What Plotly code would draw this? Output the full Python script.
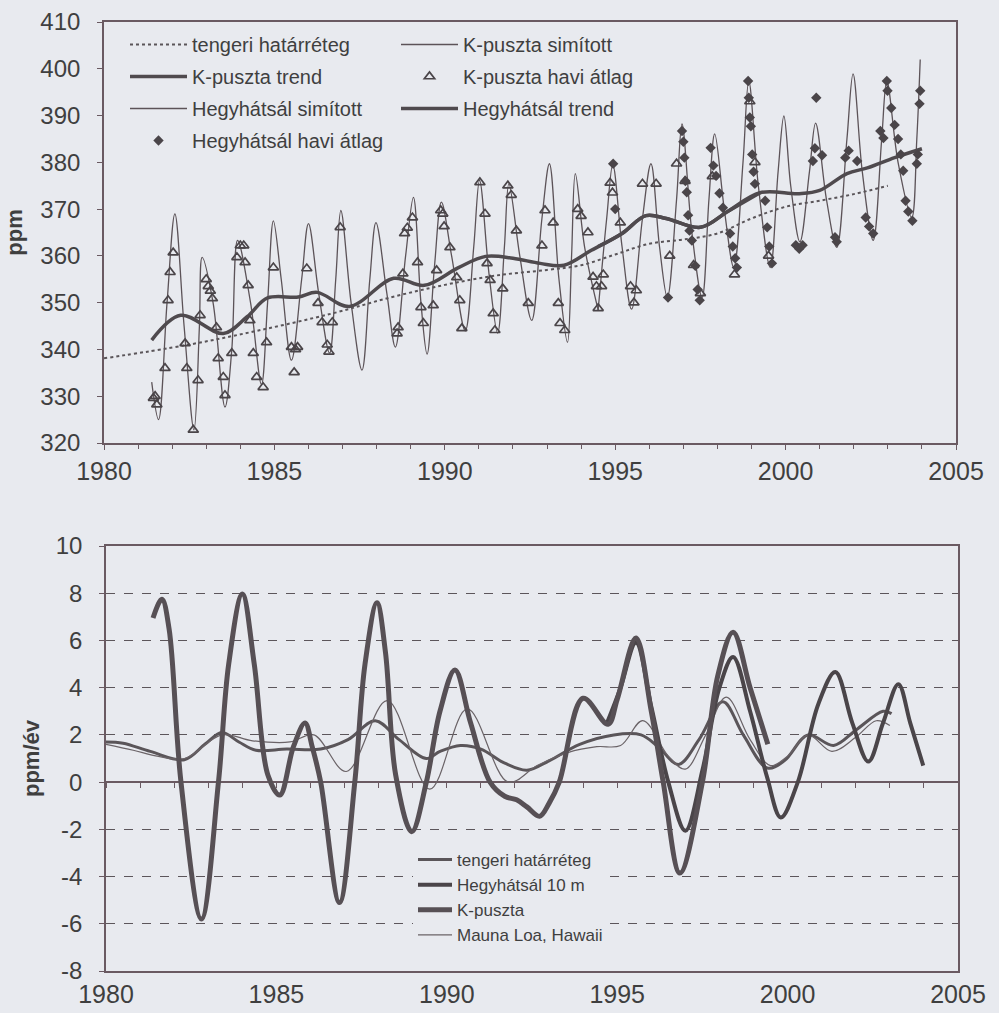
import plotly.graph_objects as go

# ---------------- TOP PANEL (ppm) ----------------
kp_smooth_t = [1981.40, 1981.60, 1981.85, 1982.08, 1982.35, 1982.64, 1982.80, 1982.88, 1983.20, 1983.55,
               1983.75, 1983.92, 1984.30, 1984.62, 1984.80, 1984.97, 1985.20, 1985.50, 1985.80, 1986.00,
               1986.30, 1986.62, 1986.80, 1986.95, 1987.25, 1987.57, 1987.80, 1987.98, 1988.30, 1988.55,
               1988.85, 1989.08, 1989.30, 1989.48, 1989.70, 1989.90, 1990.20, 1990.60, 1990.85, 1991.02,
               1991.30, 1991.55, 1991.75, 1991.88, 1992.20, 1992.55, 1992.85, 1993.07, 1993.35, 1993.60,
               1993.72, 1993.83, 1994.10, 1994.50]
kp_smooth_v = [333.0, 325.0, 350.0, 369.0, 345.0, 322.8, 345.0, 359.7, 350.0, 327.7,
               340.0, 363.3, 350.0, 332.5, 350.0, 367.5, 355.0, 337.7, 355.0, 366.9,
               352.0, 339.2, 355.0, 369.7, 350.0, 335.6, 355.0, 367.1, 352.0, 340.5,
               360.0, 372.5, 350.0, 339.0, 358.0, 371.5, 360.0, 344.0, 362.0, 376.2,
               356.0, 343.5, 362.0, 375.4, 360.0, 346.2, 368.0, 379.7, 355.0, 341.5,
               360.0, 377.6, 362.0, 348.4]

hh_smooth_t = [1994.50, 1994.75, 1994.93, 1995.20, 1995.48, 1995.80, 1996.05, 1996.30, 1996.53, 1996.80,
               1996.96, 1997.25, 1997.55, 1997.75, 1997.92, 1998.20, 1998.48, 1998.75, 1998.92, 1999.20,
               1999.55, 1999.78, 1999.95, 2000.15, 2000.42, 2000.70, 2000.88, 2001.20, 2001.50, 2001.80,
               2001.98, 2002.25, 2002.57, 2002.82, 2002.97, 2003.30, 2003.70, 2003.85, 2003.95]
hh_smooth_v = [348.4, 368.0, 379.5, 362.0, 348.6, 368.0, 379.7, 362.0, 351.1, 372.0,
               388.2, 365.0, 351.1, 372.0, 386.1, 370.0, 357.5, 380.0, 397.4, 375.0,
               357.5, 378.0, 389.9, 375.0, 363.0, 378.0, 388.4, 372.0, 361.8, 385.0,
               398.9, 378.0, 363.3, 385.0, 397.4, 380.0, 368.2, 385.0, 402.0]

mbl_t = [1980.0, 1982.4, 1984.5, 1986.7, 1988.4, 1990.0, 1991.5, 1993.0, 1994.0, 1995.0,
         1996.0, 1997.0, 1998.0, 1999.0, 2000.0, 2001.0, 2002.0, 2003.0]
mbl_v = [338.1, 340.9, 344.0, 347.7, 351.1, 353.8, 355.8, 357.0, 358.0, 360.3,
         362.6, 363.5, 364.8, 368.0, 370.5, 371.8, 373.2, 375.0]

kp_trend_t = [1981.4, 1982.25, 1983.5, 1984.2, 1984.8, 1985.7, 1986.25, 1987.2, 1988.5, 1989.4,
              1990.4, 1991.2, 1992.0, 1992.8, 1993.5, 1994.3, 1995.2, 1995.9, 1996.5, 1997.5,
              1998.3, 1999.25]
kp_trend_v = [342.0, 347.3, 343.4, 347.0, 351.0, 351.2, 352.2, 349.2, 355.2, 353.7,
              357.5, 359.9, 359.5, 358.4, 358.0, 361.2, 364.8, 368.6, 368.0, 366.1,
              369.5, 373.5]

hh_trend_t = [1994.5, 1995.2, 1995.9, 1996.5, 1997.5, 1998.3, 1999.25, 2000.4, 2001.0, 2001.8,
              2002.4, 2003.2, 2004.0]
hh_trend_v = [362.0, 364.8, 368.6, 368.0, 366.1, 369.5, 373.5, 373.3, 374.0, 377.6,
              378.8, 381.0, 382.9]

kp_month_t = [1981.45, 1981.50, 1981.55, 1981.79, 1981.88, 1981.94, 1982.03, 1982.38, 1982.43, 1982.62,
              1982.76, 1982.82, 1983.00, 1983.06, 1983.12, 1983.18, 1983.30, 1983.35, 1983.50, 1983.55,
              1983.75, 1983.90, 1984.00, 1984.10, 1984.14, 1984.23, 1984.28, 1984.38, 1984.48, 1984.67,
              1984.77, 1984.97, 1985.50, 1985.58, 1985.62, 1985.68, 1985.95, 1986.28, 1986.40, 1986.55,
              1986.60, 1986.70, 1986.93, 1988.60, 1988.63, 1988.77, 1988.82, 1988.90, 1989.05, 1989.20,
              1989.30, 1989.37, 1989.66, 1989.76, 1989.88, 1989.94, 1989.98, 1990.15, 1990.35, 1990.44,
              1990.50, 1991.03, 1991.18, 1991.24, 1991.33, 1991.42, 1991.47, 1991.70, 1991.85, 1991.95,
              1992.10, 1992.45, 1992.85, 1992.94, 1993.18, 1993.33, 1993.38, 1993.52, 1993.90, 1994.00,
              1994.20, 1994.35, 1994.45, 1994.50, 1994.60, 1994.65, 1994.85, 1994.92, 1995.15, 1995.45,
              1995.55, 1995.62, 1995.80, 1996.20, 1996.60, 1996.80, 1997.05, 1997.30, 1997.50, 1997.85,
              1998.50, 1998.95, 1999.10, 1999.50]
kp_month_v = [329.6, 330.0, 328.2, 336.0, 350.5, 356.5, 360.7, 341.3, 336.0, 322.8,
              333.4, 347.3, 355.0, 353.5, 352.5, 350.9, 344.7, 338.1, 334.1, 330.2,
              339.2, 359.7, 362.2, 362.2, 358.6, 353.7, 346.2, 339.2, 334.1, 331.9,
              341.5, 357.5, 340.5, 335.1, 340.0, 340.5, 357.3, 349.9, 345.8, 341.0,
              339.5, 345.8, 366.1, 343.4, 344.7, 356.2, 364.8, 366.0, 368.2, 358.6,
              349.0, 345.6, 349.4, 356.9, 369.7, 369.0, 366.3, 361.8, 355.4, 350.5,
              344.5, 375.7, 369.0, 358.4, 354.8, 347.7, 344.1, 353.0, 375.0, 373.0,
              365.4, 349.9, 362.2, 369.7, 367.1, 349.9, 345.6, 344.1, 370.0, 368.5,
              365.0, 355.5, 353.5, 348.8, 353.5, 356.0, 375.6, 373.5, 367.1, 353.5,
              350.0, 352.6, 375.4, 375.4, 360.0, 379.7, 376.0, 358.0, 352.0, 377.0,
              356.0, 393.0, 380.0, 360.0]

hh_month_t = [1994.94, 1995.00, 1996.55, 1996.96, 1997.00, 1997.03, 1997.06, 1997.10, 1997.14, 1997.18,
              1997.25, 1997.35, 1997.42, 1997.48, 1997.80, 1997.88, 1997.96, 1998.06, 1998.16, 1998.37,
              1998.45, 1998.52, 1998.57, 1998.90, 1998.92, 1998.95, 1998.98, 1999.02, 1999.06, 1999.10,
              1999.40, 1999.46, 1999.52, 1999.60, 2000.30, 2000.40, 2000.50, 2000.80, 2000.86, 2000.90,
              2001.07, 2001.45, 2001.50, 2001.75, 2001.85, 2002.10, 2002.35, 2002.45, 2002.57, 2002.78,
              2002.87, 2002.97, 2002.99, 2003.10, 2003.20, 2003.30, 2003.38, 2003.45, 2003.52, 2003.60,
              2003.72, 2003.85, 2003.88, 2003.93, 2003.95]
hh_month_v = [379.7, 370.0, 351.1, 386.7, 384.4, 381.0, 376.0, 373.6, 368.7, 365.4,
              363.3, 357.9, 352.8, 350.5, 383.1, 379.3, 377.1, 373.4, 370.3, 364.8,
              362.0, 359.5, 357.5, 397.4, 393.8, 389.6, 387.7, 381.7, 378.0, 375.4,
              371.8, 366.1, 362.0, 358.4, 362.3, 361.5, 362.3, 380.3, 383.0, 393.8,
              381.5, 364.0, 363.0, 381.0, 382.5, 380.3, 368.2, 366.3, 364.8, 386.7,
              385.2, 397.4, 395.3, 391.6, 388.0, 385.0, 381.7, 378.2, 371.8, 369.5,
              367.5, 379.7, 381.7, 392.5, 395.3]

# ---------------- BOTTOM PANEL (ppm/év) ----------------
rate_kp_t = [1981.38, 1981.64, 1981.85, 1982.2, 1982.8, 1983.3, 1983.6, 1984.0, 1984.35, 1984.75,
             1985.1, 1985.5, 1985.84, 1986.05, 1986.3, 1986.85, 1987.3, 1987.6, 1987.95, 1988.2,
             1988.5, 1988.97, 1989.4, 1989.8, 1990.24, 1990.7, 1991.27, 1991.7, 1992.05, 1992.35,
             1992.72, 1993.0, 1993.3, 1994.0, 1994.73, 1995.0, 1995.55, 1996.0, 1996.35, 1996.84,
             1997.5, 1997.95, 1998.4, 1998.9, 1999.42]
rate_kp_v = [6.95, 7.75, 6.5, 0.0, -5.8, 0.0, 5.0, 7.97, 5.0, 0.3,
             -0.55, 1.5, 2.5, 1.5, 0.0, -5.1, 0.0, 5.0, 7.6, 5.5,
             0.3, -2.1, 0.0, 3.0, 4.75, 2.5, 0.0, -0.6, -0.75, -1.05,
             -1.45, -0.9, 0.0, 3.55, 2.45, 3.5, 6.1, 3.0, 0.0, -3.85,
             0.0, 4.5, 6.35, 4.0, 1.6]

rate_hh_t = [1994.7, 1995.1, 1995.55, 1996.0, 1996.5, 1997.0, 1997.5, 1998.0, 1998.4, 1998.9,
             1999.4, 1999.8, 2000.3, 2000.9, 2001.4, 2001.9, 2002.37, 2002.8, 2003.25, 2003.6,
             2003.98]
rate_hh_v = [2.5, 4.0, 5.9, 3.2, 0.0, -2.06, 0.5, 4.0, 5.3, 3.0,
             0.2, -1.5, 0.0, 3.3, 4.66, 2.5, 0.87, 2.5, 4.15, 2.5,
             0.7]

rate_mbl_t = [1980.0, 1980.5, 1981.3, 1982.3, 1982.9, 1983.4, 1983.9, 1984.4, 1985.3, 1986.3,
              1987.1, 1987.9, 1988.6, 1989.4, 1989.8, 1990.4, 1991.0, 1991.7, 1992.35, 1993.0,
              1993.9, 1994.9, 1995.7, 1996.2, 1996.8, 1997.4, 1998.1, 1998.7, 1999.4, 1999.9,
              2000.6, 2001.35, 2002.0, 2002.8, 2003.05]
rate_mbl_v = [1.7, 1.65, 1.3, 0.95, 1.6, 2.1, 1.7, 1.35, 1.4, 1.4,
              1.8, 2.6, 1.8, 1.0, 1.3, 1.55, 1.4, 0.8, 0.5, 0.9,
              1.6, 2.0, 2.0, 1.5, 0.75, 1.8, 3.4, 2.0, 0.6, 0.9,
              2.0, 1.55, 2.2, 3.0, 2.9]

rate_ml_t = [1980.0, 1980.8, 1981.5, 1982.3, 1983.4, 1984.3, 1985.4, 1986.1, 1987.05, 1988.25,
             1989.5, 1990.6, 1991.8, 1992.65, 1993.55, 1994.4, 1995.1, 1995.75, 1996.5, 1997.0,
             1997.6, 1998.2, 1998.9, 1999.5, 2000.0, 2000.6, 2001.3, 2002.0, 2002.6, 2003.0]
rate_ml_v = [1.6, 1.35, 1.1, 1.0, 2.0, 1.75, 1.7, 2.0, 0.45, 3.45,
             -0.3, 3.1, 0.0, 0.7, 1.25, 1.5, 1.55, 2.6, 1.1, 0.55,
             2.0, 3.6, 1.8, 0.7, 1.1, 2.0, 1.3, 1.9, 2.6, 2.4]

# tick labels (hyphen minus as in the original)
rate_tickvals = [-8, -6, -4, -2, 0, 2, 4, 6, 8, 10]
rate_ticktext = ["-8", "-6", "-4", "-2", "0", "2", "4", "6", "8", "10"]

# ---------------- STYLE ----------------
BG = "#e8eaef"
FRAME = "#6a5a62"
TXT = "#3f3f3f"
FONT = "Liberation Sans, Arial, sans-serif"

fig = go.Figure()

fig.add_trace(go.Scatter(x=kp_smooth_t, y=kp_smooth_v, mode="lines", name="K-puszta simított",
                         line=dict(color="#5c5358", width=1.3, shape="spline"),
                         legend="legend3", legendgroup="a1", legendrank=1, xaxis="x", yaxis="y"))
fig.add_trace(go.Scatter(x=hh_smooth_t, y=hh_smooth_v, mode="lines", name="Hegyhátsál simított",
                         line=dict(color="#5c5358", width=1.3, shape="spline"),
                         legend="legend", legendgroup="b3", legendrank=3, xaxis="x", yaxis="y"))
fig.add_trace(go.Scatter(x=mbl_t, y=mbl_v, mode="lines", name="tengeri határréteg",
                         line=dict(color="#5a5559", width=2, dash="dot", shape="spline"),
                         legend="legend", legendgroup="b1", legendrank=1, xaxis="x", yaxis="y"))
fig.add_trace(go.Scatter(x=kp_trend_t, y=kp_trend_v, mode="lines", name="K-puszta trend",
                         line=dict(color="#4f4a4e", width=3.5, shape="spline"),
                         legend="legend", legendgroup="b2", legendrank=2, xaxis="x", yaxis="y"))
fig.add_trace(go.Scatter(x=hh_trend_t, y=hh_trend_v, mode="lines", name="Hegyhátsál trend",
                         line=dict(color="#4f4a4e", width=3.5, shape="spline"),
                         legend="legend3", legendgroup="a3", legendrank=3, xaxis="x", yaxis="y"))
fig.add_trace(go.Scatter(x=kp_month_t, y=kp_month_v, mode="markers", name="K-puszta havi átlag",
                         marker=dict(symbol="triangle-up-open", size=9, color="#4a4549",
                                     line=dict(width=1.7, color="#4a4549")),
                         legend="legend3", legendgroup="a2", legendrank=2, xaxis="x", yaxis="y"))
fig.add_trace(go.Scatter(x=hh_month_t, y=hh_month_v, mode="markers", name="Hegyhátsál havi átlag",
                         marker=dict(symbol="diamond", size=8, color="#4a4549"),
                         legend="legend", legendgroup="b4", legendrank=4, xaxis="x", yaxis="y"))

fig.add_trace(go.Scatter(x=rate_mbl_t, y=rate_mbl_v, mode="lines", name="tengeri határréteg",
                         line=dict(color="#5a5559", width=3, shape="spline"),
                         legend="legend2", legendrank=1, xaxis="x2", yaxis="y2"))
fig.add_trace(go.Scatter(x=rate_ml_t, y=rate_ml_v, mode="lines", name="Mauna Loa, Hawaii",
                         line=dict(color="#6a6367", width=1.2, shape="spline"),
                         legend="legend2", legendrank=4, xaxis="x2", yaxis="y2"))
fig.add_trace(go.Scatter(x=rate_hh_t, y=rate_hh_v, mode="lines", name="Hegyhátsál 10 m",
                         line=dict(color="#4a4549", width=4, shape="spline"),
                         legend="legend2", legendrank=2, xaxis="x2", yaxis="y2"))
fig.add_trace(go.Scatter(x=rate_kp_t, y=rate_kp_v, mode="lines", name="K-puszta",
                         line=dict(color="#575055", width=5, shape="spline"),
                         legend="legend2", legendrank=3, xaxis="x2", yaxis="y2"))
# empty helper trace so the zero-line tick axis is always drawn
fig.add_trace(go.Scatter(x=[], y=[], mode="lines", showlegend=False, hoverinfo="skip",
                         xaxis="x3", yaxis="y2"))

W, H = 999, 1013
top_x = [104 / W, 956 / W]
top_y = [(H - 443) / H, (H - 22) / H]
bot_x = [106 / W, 958 / W]
bot_y = [(H - 971) / H, (H - 546) / H]
zero_pos = bot_y[0] + (bot_y[1] - bot_y[0]) * 8 / 18

axis_common = dict(showline=True, mirror=True, linecolor=FRAME, linewidth=1.6,
                   tickcolor=FRAME, automargin=False,
                   showgrid=False, zeroline=False)

fig.update_layout(
    template="none",
    width=W, height=H, margin=dict(l=0, r=0, t=0, b=0, autoexpand=False),
    paper_bgcolor=BG, plot_bgcolor=BG,
    font=dict(family=FONT, color=TXT),
    xaxis=dict(domain=top_x, anchor="y", range=[1980, 2005], tick0=1980, dtick=5,
               ticks="outside", ticklen=5, tickwidth=1.2,
               tickfont=dict(family=FONT, size=25, color=TXT),
               minor=dict(dtick=1, ticks="outside", ticklen=4, tickcolor=FRAME),
               **axis_common),
    yaxis=dict(domain=top_y, anchor="x", range=[320, 410], dtick=10,
               ticks="outside", ticklen=5, ticklabelstandoff=12,
               tickfont=dict(family=FONT, size=24, color=TXT),
               title=dict(text="<b>ppm</b>", font=dict(size=22, color=TXT), standoff=12),
               **axis_common),
    xaxis2=dict(domain=bot_x, anchor="y2", range=[1980, 2005], tick0=1980, dtick=5,
                ticks="", tickfont=dict(family=FONT, size=25, color=TXT), **axis_common),
    yaxis2=dict(domain=bot_y, anchor="x2", range=[-8, 10],
                tickvals=rate_tickvals, ticktext=rate_ticktext,
                ticks="outside", ticklen=5, ticklabelstandoff=12,
                tickfont=dict(family=FONT, size=24, color=TXT),
                title=dict(text="<b>ppm/év</b>", font=dict(size=22, color=TXT), standoff=10),
                showline=True, mirror=True, linecolor=FRAME, linewidth=1.6,
                tickcolor=FRAME, automargin=False,
                showgrid=True, gridcolor="#5c565b", griddash="dash", gridwidth=1.3,
                zeroline=True, zerolinecolor=FRAME, zerolinewidth=1.8),
    xaxis3=dict(overlaying="x2", matches="x2", anchor="free", position=zero_pos,
                range=[1980, 2005], tick0=1980, dtick=1, ticks="outside", ticklen=5,
                tickwidth=1.3, tickcolor=FRAME, showticklabels=False, showline=False,
                showgrid=False, zeroline=False, automargin=False),
    legend=dict(x=125 / W, y=1 - 25 / H, xanchor="left", yanchor="top",
                bgcolor="rgba(0,0,0,0)", font=dict(size=20, color=TXT),
                traceorder="grouped", tracegroupgap=3, itemwidth=57),
    legend3=dict(x=396 / W, y=1 - 25 / H, xanchor="left", yanchor="top",
                 bgcolor="rgba(0,0,0,0)", font=dict(size=20, color=TXT),
                 traceorder="grouped", tracegroupgap=3, itemwidth=57),
    legend2=dict(x=413 / W, y=1 - 842 / H, xanchor="left", yanchor="top",
                 bgcolor=BG, font=dict(size=17, color=TXT), traceorder="normal",
                 itemwidth=34),
    showlegend=True,
)

fig.write_html("out.html")
